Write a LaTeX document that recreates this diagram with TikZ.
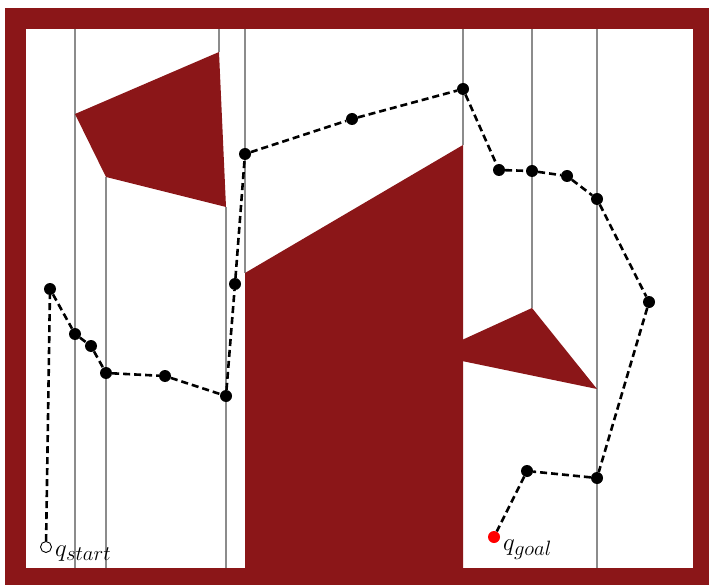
\documentclass[tikz,border=0pt]{standalone}
\begin{document}
\begin{tikzpicture}[x=1pt,y=-1pt,
  obst/.style={fill=obsred,draw=none},
  cell/.style={draw=black!45,line width=2pt},
  wp/.style={circle,fill=black,inner sep=0pt,minimum size=12pt},
  startpt/.style={circle,draw=black,fill=white,line width=0.9pt,inner sep=0pt,minimum size=11pt},
  goalpt/.style={circle,fill=red,inner sep=0pt,minimum size=12pt},
  route/.style={line width=2.6pt,dash pattern=on 7pt off 4pt},
  lab/.style={font=\fontsize{32}{38}\selectfont,anchor=base west,inner sep=0pt}]
\definecolor{obsred}{RGB}{139,22,24}
\useasboundingbox (0,0) rectangle (709,585);
% walls
\fill[obsred] (5,8) rectangle (712,588);
\fill[white] (26,29) rectangle (693,568);
% cell decomposition lines
\draw[cell] (75,29) -- (75,568);
\draw[cell] (106,177) -- (106,568);
\draw[cell] (219,29) -- (219,52);
\draw[cell] (226,207) -- (226,568);
\draw[cell] (245,29) -- (245,273);
\draw[cell] (463,29) -- (463,145);
\draw[cell] (532,29) -- (532,308);
\draw[cell] (597,29) -- (597,568);
% obstacles
\fill[obst] (75,114) -- (219,52) -- (226,207) -- (106,177) -- cycle;
\fill[obst] (245,273) -- (463,145) -- (463,568) -- (245,568) -- cycle;
\fill[obst] (462,340) -- (532,308) -- (597,389) -- (462,361) -- cycle;
% path nodes
\node[startpt] (s) at (46,547) {};
\node[wp] (a1) at (50,289) {};
\node[wp] (a2) at (75,334) {};
\node[wp] (a3) at (91,346) {};
\node[wp] (a4) at (106,373) {};
\node[wp] (a5) at (165,376) {};
\node[wp] (a6) at (226,396) {};
\node[wp] (a7) at (235,284) {};
\node[wp] (a8) at (245,154) {};
\node[wp] (a9) at (352,119) {};
\node[wp] (a10) at (463,89) {};
\node[wp] (a11) at (499,170) {};
\node[wp] (a12) at (532,171) {};
\node[wp] (a13) at (567,176) {};
\node[wp] (a14) at (597,199) {};
\node[wp] (a15) at (649,302) {};
\node[wp] (a16) at (597,478) {};
\node[wp] (a17) at (527,471) {};
\node[goalpt] (g) at (494,537) {};
\draw[route] (s) -- (a1) -- (a2) -- (a3) -- (a4) -- (a5) -- (a6) -- (a7) -- (a8) -- (a9) -- (a10) -- (a11) -- (a12) -- (a13) -- (a14) -- (a15) -- (a16) -- (a17) -- (g);
% labels
\node[lab] (ls) at (55,556) {$q_{start}$};
\node[lab] (lg) at (503,550) {$q_{goal}$};
\end{tikzpicture}
\end{document}
